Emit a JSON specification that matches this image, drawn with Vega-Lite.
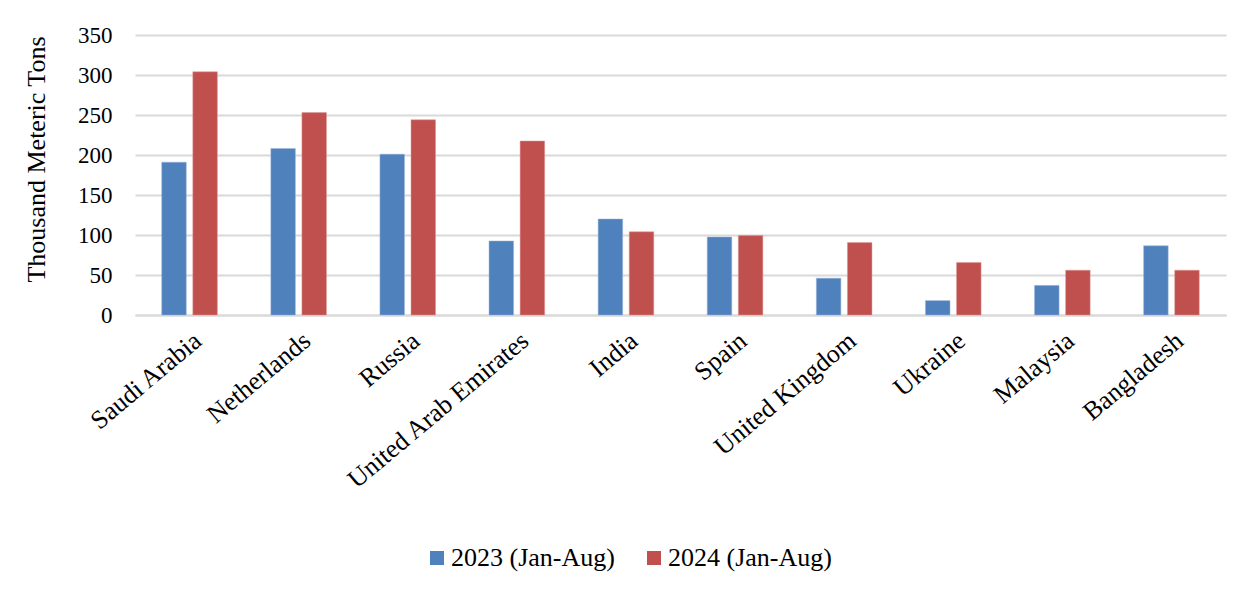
{
  "$schema": "https://vega.github.io/schema/vega-lite/v6.json",
  "width": 1091,
  "height": 280,
  "autosize": "none",
  "padding": {"left": 135, "top": 35, "right": 27, "bottom": 279},
  "background": "white",
  "data": {
    "values": [
      {"country": "Saudi Arabia", "period": "2023 (Jan-Aug)", "value": 191},
      {"country": "Saudi Arabia", "period": "2024 (Jan-Aug)", "value": 304},
      {"country": "Netherlands", "period": "2023 (Jan-Aug)", "value": 208},
      {"country": "Netherlands", "period": "2024 (Jan-Aug)", "value": 253},
      {"country": "Russia", "period": "2023 (Jan-Aug)", "value": 201},
      {"country": "Russia", "period": "2024 (Jan-Aug)", "value": 244},
      {"country": "United Arab Emirates", "period": "2023 (Jan-Aug)", "value": 92.5},
      {"country": "United Arab Emirates", "period": "2024 (Jan-Aug)", "value": 217.5},
      {"country": "India", "period": "2023 (Jan-Aug)", "value": 120},
      {"country": "India", "period": "2024 (Jan-Aug)", "value": 104},
      {"country": "Spain", "period": "2023 (Jan-Aug)", "value": 97.5},
      {"country": "Spain", "period": "2024 (Jan-Aug)", "value": 99.5},
      {"country": "United Kingdom", "period": "2023 (Jan-Aug)", "value": 46},
      {"country": "United Kingdom", "period": "2024 (Jan-Aug)", "value": 90.5},
      {"country": "Ukraine", "period": "2023 (Jan-Aug)", "value": 18},
      {"country": "Ukraine", "period": "2024 (Jan-Aug)", "value": 65.5},
      {"country": "Malaysia", "period": "2023 (Jan-Aug)", "value": 37},
      {"country": "Malaysia", "period": "2024 (Jan-Aug)", "value": 56},
      {"country": "Bangladesh", "period": "2023 (Jan-Aug)", "value": 86.5},
      {"country": "Bangladesh", "period": "2024 (Jan-Aug)", "value": 56}
    ]
  },
  "mark": {"type": "bar", "strokeWidth": 1, "strokeOpacity": 0.5},
  "encoding": {
    "x": {
      "field": "country",
      "type": "nominal",
      "sort": null,
      "scale": {"paddingInner": 0.49, "paddingOuter": 0.245},
      "axis": {
        "title": null,
        "labelAngle": -40,
        "labelFont": "Liberation Serif",
        "labelFontSize": 26,
        "labelColor": "black",
        "labelPadding": 12,
        "ticks": false,
        "domainColor": "#d9d9d9",
        "domainWidth": 2,
        "labelLimit": 400
      }
    },
    "xOffset": {
      "field": "period",
      "type": "nominal",
      "scale": {"paddingInner": 0.21, "paddingOuter": 0}
    },
    "y": {
      "field": "value",
      "type": "quantitative",
      "scale": {"domain": [0, 350]},
      "axis": {
        "title": "Thousand Meteric Tons",
        "titleFont": "Liberation Serif",
        "titleFontSize": 26,
        "titleFontWeight": "normal",
        "titleColor": "black",
        "titlePadding": 28,
        "titleY": 124,
        "values": [0, 50, 100, 150, 200, 250, 300, 350],
        "labelFont": "Liberation Serif",
        "labelFontSize": 23,
        "labelColor": "black",
        "labelPadding": 23,
        "ticks": false,
        "domain": false,
        "gridColor": "#d9d9d9",
        "gridWidth": 2
      }
    },
    "color": {
      "field": "period",
      "type": "nominal",
      "scale": {"domain": ["2023 (Jan-Aug)", "2024 (Jan-Aug)"], "range": ["#4f81bd", "#c0504d"]},
      "legend": {
        "title": null,
        "orient": "none",
        "direction": "horizontal",
        "legendX": 289,
        "legendY": 510,
        "symbolType": "square",
        "symbolSize": 196,
        "symbolStrokeWidth": 0,
        "labelFont": "Liberation Serif",
        "labelFontSize": 26,
        "labelColor": "black",
        "labelOffset": 1,
        "columnPadding": 26,
        "labelLimit": 400
      }
    },
    "stroke": {
      "field": "period",
      "type": "nominal",
      "scale": {"domain": ["2023 (Jan-Aug)", "2024 (Jan-Aug)"], "range": ["#9bb5dc", "#e09a98"]},
      "legend": null
    }
  },
  "config": {"view": {"stroke": null}}
}
